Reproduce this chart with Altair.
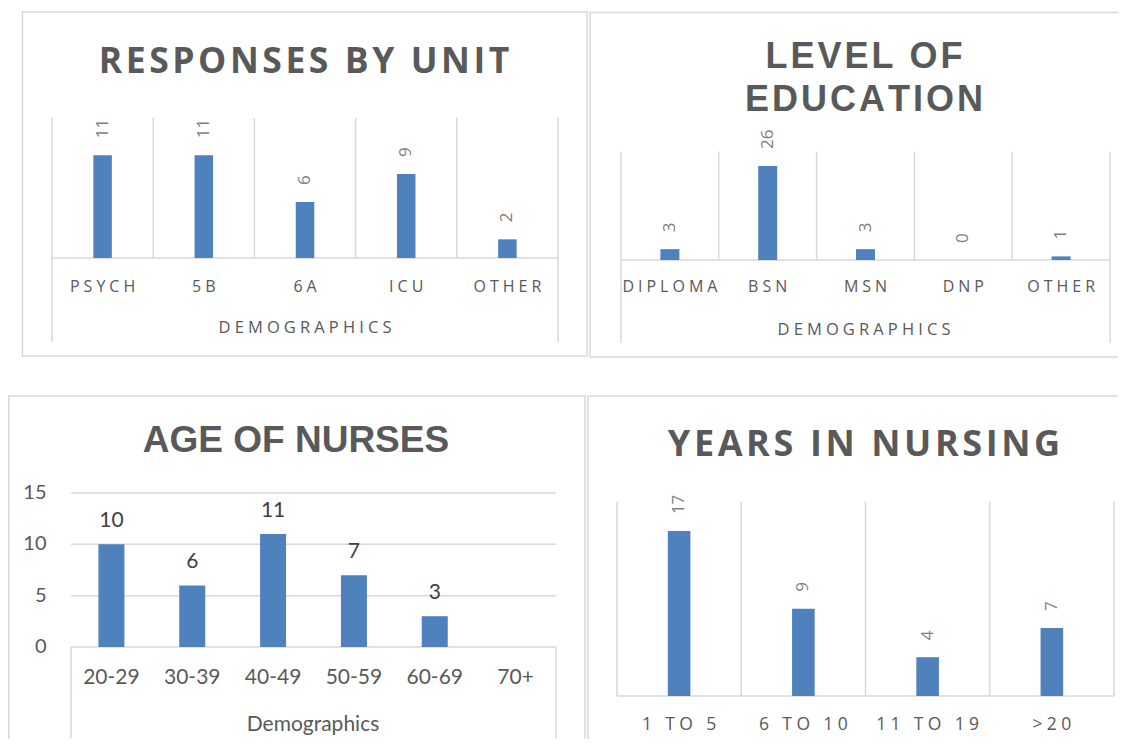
import altair as alt
import pandas as pd

# ---------------- data ----------------
unit_cats = ["PSYCH", "5B", "6A", "ICU", "OTHER"]
unit_vals = [11, 11, 6, 9, 2]

edu_cats = ["DIPLOMA", "BSN", "MSN", "DNP", "OTHER"]
edu_vals = [3, 26, 3, 0, 1]

age_cats = ["20-29", "30-39", "40-49", "50-59", "60-69", "70+"]
age_vals = [10, 6, 11, 7, 3, None]
age_ticks = [0, 5, 10, 15]

yrs_cats = ["1 TO 5", "6 TO 10", "11 TO 19", ">20"]
yrs_vals = [17, 9, 4, 7]

# ---------------- style ----------------
BAR = "#4f81bd"
GRID = "#d9d9d9"
TXT = "#595959"
LBL = "#7f7f7f"
SP = "\u2005"      # letter spacing for small caps labels
HAIR = "\u200a"    # letter spacing for titles


def spaced(s, sep):
    return sep.join(list(s))


one = pd.DataFrame({"k": [0]})


def border(x0, x1, y0, y1):
    return alt.Chart(one).mark_rect(fill=None, stroke=GRID, strokeWidth=1.5).encode(
        x=alt.value(x0), x2=alt.value(x1), y=alt.value(y0), y2=alt.value(y1)
    )


def title_text(txt, x, y, font, size):
    return alt.Chart(one).mark_text(
        font=font, fontSize=size, fontWeight="bold", color=TXT, align="center", baseline="alphabetic"
    ).encode(x=alt.value(x), y=alt.value(y), text=alt.value(txt))


def rotated_panel(cats, vals, ymax, xr, yr, bar_w, lab_y, lab_size, ext_to, ax_title, ax_y, ax_x,
                  brd, titles, title_font, title_size):
    df = pd.DataFrame({"cat": cats, "value": vals})
    df["shown"] = [spaced(c, SP) for c in cats]
    xs = alt.Scale(domain=cats, range=xr, paddingInner=0, paddingOuter=0)
    ys = alt.Scale(domain=[0, ymax], range=yr, nice=False, zero=True)
    base = alt.Chart(df)
    first = alt.Chart(df.iloc[[0]])
    last = alt.Chart(df.iloc[[-1]])
    layers = [border(*brd)]
    for (t, tx, ty) in titles:
        layers.append(title_text(t, tx, ty, title_font, title_size))
    rule = dict(color=GRID, strokeWidth=1.5)
    layers.append(base.mark_rule(**rule).encode(
        x=alt.X("cat:N", scale=xs, bandPosition=0, axis=None),
        y=alt.value(yr[1]), y2=alt.value(yr[0])))
    layers.append(last.mark_rule(**rule).encode(
        x=alt.X("cat:N", scale=xs, bandPosition=1, axis=None),
        y=alt.value(yr[1]), y2=alt.value(yr[0])))
    if ext_to is not None:
        layers.append(first.mark_rule(**rule).encode(
            x=alt.X("cat:N", scale=xs, bandPosition=0, axis=None),
            y=alt.value(yr[0]), y2=alt.value(ext_to)))
        layers.append(last.mark_rule(**rule).encode(
            x=alt.X("cat:N", scale=xs, bandPosition=1, axis=None),
            y=alt.value(yr[0]), y2=alt.value(ext_to)))
    layers.append(alt.Chart(one).mark_rule(**rule).encode(
        x=alt.value(xr[0]), x2=alt.value(xr[1]), y=alt.value(yr[0])))
    layers.append(base.mark_bar(size=bar_w, color=BAR).encode(
        x=alt.X("cat:N", scale=xs, axis=None),
        y=alt.Y("value:Q", scale=ys, axis=None)))
    layers.append(base.mark_text(angle=270, align="left", baseline="middle", dx=17,
                                 font="Open Sans", fontSize=17, color=LBL).encode(
        x=alt.X("cat:N", scale=xs, axis=None),
        y=alt.Y("value:Q", scale=ys, axis=None),
        text="value:Q"))
    layers.append(base.mark_text(align="center", baseline="middle", font="Open Sans",
                                 fontSize=lab_size, color=TXT).encode(
        x=alt.X("cat:N", scale=xs, axis=None),
        y=alt.value(lab_y),
        text="shown:N"))
    if ax_title is not None:
        layers.append(alt.Chart(one).mark_text(align="center", baseline="middle", font="Open Sans",
                                               fontSize=16.5, color=TXT).encode(
            x=alt.value(ax_x), y=alt.value(ax_y), text=alt.value(spaced(ax_title, SP))))
    return alt.layer(*layers)


p1 = rotated_panel(unit_cats, unit_vals, 15, [44, 550], [250, 110], 18.5, 279, 16, 334,
                   "DEMOGRAPHICS", 320, 297, (14.5, 579, 4, 348),
                   [(spaced("RESPONSES BY UNIT", HAIR), 296, 65)], "Open Sans", 35.5)

p2 = rotated_panel(edu_cats, edu_vals, 30, [613, 1102], [252, 143.5], 19, 279, 16, 335,
                   "DEMOGRAPHICS", 322, 856, (582, 1140, 4.5, 349),
                   [(spaced("LEVEL OF", HAIR), 856, 60), (spaced("EDUCATION", HAIR), 856, 103)],
                   "Liberation Sans", 36)

p4 = rotated_panel(yrs_cats, yrs_vals, 20, [609, 1106], [688, 494], 22.6, 717, 17.5, None,
                   None, 0, 0, (580, 1140, 388, 760),
                   [(spaced("YEARS IN NURSING", HAIR), 856, 448)], "Open Sans", 36)

# ---- panel 3: age of nurses (classic axis style) ----
adf = pd.DataFrame({"cat": age_cats, "value": age_vals})
tdf = pd.DataFrame({"tick": age_ticks})
axs = alt.Scale(domain=age_cats, range=[63, 548], paddingInner=0, paddingOuter=0)
ays = alt.Scale(domain=[0, 15], range=[639, 485], nice=False, zero=True)
grule = dict(color=GRID, strokeWidth=1.5)
p3 = alt.layer(
    border(0.75, 577, 388, 760),
    title_text("AGE OF NURSES", 288, 444, "Liberation Sans", 37),
    alt.Chart(tdf).mark_rule(**grule).encode(
        y=alt.Y("tick:Q", scale=ays, axis=None), x=alt.value(63), x2=alt.value(548)),
    alt.Chart(tdf).mark_text(align="right", baseline="middle", font="Lato", fontSize=20, color=TXT).encode(
        y=alt.Y("tick:Q", scale=ays, axis=None), x=alt.value(38.5), text="tick:Q"),
    alt.Chart(adf.iloc[[0]]).mark_rule(**grule).encode(
        x=alt.X("cat:N", scale=axs, bandPosition=0, axis=None), y=alt.value(639), y2=alt.value(730)),
    alt.Chart(adf.iloc[[-1]]).mark_rule(**grule).encode(
        x=alt.X("cat:N", scale=axs, bandPosition=1, axis=None), y=alt.value(639), y2=alt.value(730)),
    alt.Chart(adf).transform_filter("isValid(datum.value)").mark_bar(size=26, color=BAR).encode(
        x=alt.X("cat:N", scale=axs, axis=None), y=alt.Y("value:Q", scale=ays, axis=None)),
    alt.Chart(adf).transform_filter("isValid(datum.value)").mark_text(
        baseline="alphabetic", dy=-17, font="Lato", fontSize=21, color="#404040").encode(
        x=alt.X("cat:N", scale=axs, axis=None), y=alt.Y("value:Q", scale=ays, axis=None), text="value:Q"),
    alt.Chart(adf).mark_text(baseline="middle", font="Lato", fontSize=21, color=TXT).encode(
        x=alt.X("cat:N", scale=axs, axis=None), y=alt.value(670), text="cat:N"),
    alt.Chart(one).mark_text(baseline="middle", font="Lato", fontSize=21, color=TXT).encode(
        x=alt.value(305), y=alt.value(717), text=alt.value("Demographics")),
)

chart = alt.layer(p1, p2, p3, p4).resolve_scale(x="independent", y="independent").properties(
    width=1110, height=731, padding=0,
    autosize=alt.AutoSizeParams(type="none"),
).configure_view(stroke=None)

chart.save("out.html", embed_options={"renderer": "svg", "actions": False})
